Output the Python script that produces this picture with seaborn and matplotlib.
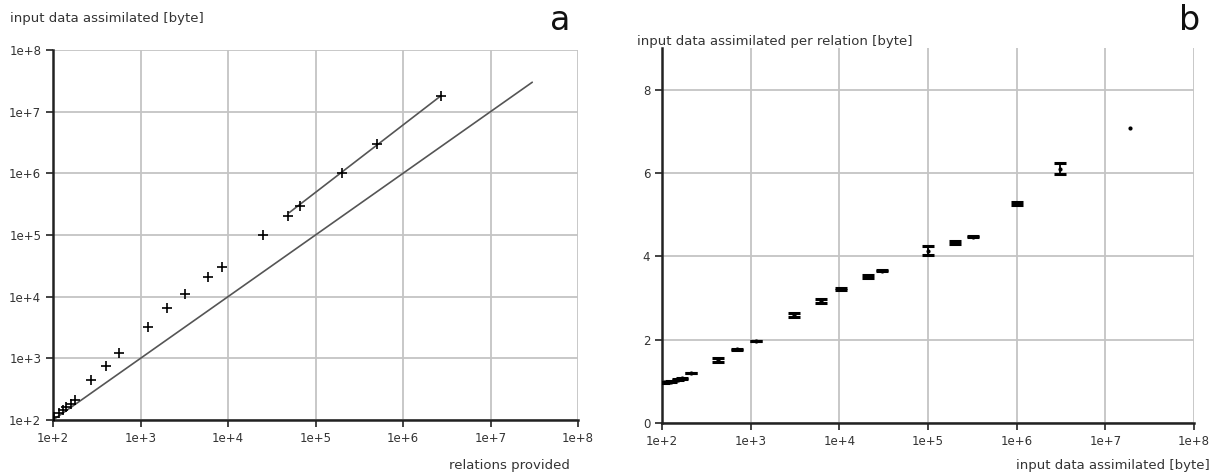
import numpy as np
import pandas as pd
import matplotlib
matplotlib.use("Agg")
import matplotlib.pyplot as plt
import seaborn as sns

# panel a: relations provided vs input data assimilated
relations = [102, 117, 130, 140, 160, 180, 270, 400, 570, 1230, 2000, 3200,
             5900, 8500, 25000, 49000, 67000, 200000, 500000, 2700000]
assimilated = [110, 130, 145, 160, 180, 210, 440, 750, 1200, 3200, 6500, 11000,
               21000, 30000, 100000, 200000, 300000, 1000000, 3000000, 18000000]
fit_x = [50000, 2700000]
fit_y = [230000, 18000000]
ident_x = [100, 30000000]
ident_y = [100, 30000000]

# panel b: input data assimilated vs bytes per relation
input_bytes = [105, 125, 150, 170, 210, 430, 700, 1150, 3100, 6200, 10500, 21000,
               30000, 100000, 200000, 320000, 1000000, 3100000, 19000000]
per_relation = [0.98, 0.99, 1.04, 1.07, 1.20, 1.52, 1.77, 1.97, 2.60, 2.93, 3.22, 3.52,
                3.66, 4.14, 4.33, 4.47, 5.27, 6.10, 7.08]
per_relation_err = [0.01, 0.01, 0.01, 0.01, 0.01, 0.05, 0.01, 0.01, 0.05, 0.05, 0.03, 0.03,
                    0.01, 0.11, 0.04, 0.01, 0.03, 0.13, 0.0]

decades = [1e2, 1e3, 1e4, 1e5, 1e6, 1e7, 1e8]
decade_labels = ["1e+2", "1e+3", "1e+4", "1e+5", "1e+6", "1e+7", "1e+8"]
b_yticks = [0, 2, 4, 6, 8]

sns.set_style("whitegrid")
plt.rcParams['font.family'] = ['DejaVu Sans']
plt.rcParams['grid.color'] = '#c4c4c4'
plt.rcParams['grid.linewidth'] = 1.3

fig = plt.figure(figsize=(12.26, 4.75), dpi=100)
ax_a = fig.add_axes([53 / 1226, 55 / 475, 525 / 1226, 370 / 475])
ax_b = fig.add_axes([662 / 1226, 52 / 475, 532 / 1226, 375 / 475])


def style_axes(ax):
    for side in ["top", "right"]:
        ax.spines[side].set_visible(False)
    for side in ["left", "bottom"]:
        ax.spines[side].set_color("#222222")
        ax.spines[side].set_linewidth(1.8)
    ax.tick_params(axis="both", which="major", direction="out", length=5, width=1.2,
                   color="#222222", labelsize=8.5, labelcolor="#333333", left=True, bottom=True)
    ax.tick_params(axis="both", which="minor", length=0)
    ax.minorticks_off()


# ---- panel a ----
df_a = pd.DataFrame({"relations": relations, "assimilated": assimilated})
sns.lineplot(x=ident_x, y=ident_y, ax=ax_a, color="#555555", linewidth=1.2)
sns.lineplot(x=fit_x, y=fit_y, ax=ax_a, color="#555555", linewidth=1.2)
sns.scatterplot(data=df_a, x="relations", y="assimilated", ax=ax_a, marker="+",
                color="black", s=45, linewidth=1.2, zorder=5)
ax_a.set_xscale("log")
ax_a.set_yscale("log")
ax_a.set_xlim(1e2, 1e8)
ax_a.set_ylim(1e2, 1e8)
ax_a.set_xticks(decades, decade_labels)
ax_a.set_yticks(decades, decade_labels)
style_axes(ax_a)
ax_a.set_xlabel("relations provided", fontsize=9.5, color="#333333", ha="right", va="center")
ax_a.xaxis.set_label_coords(0.985, -0.122)
ax_a.set_ylabel("input data assimilated [byte]", fontsize=9.5, color="#333333",
                rotation=0, ha="left", va="center")
ax_a.yaxis.set_label_coords(-0.082, 1.086)

# ---- panel b ----
df_b = pd.DataFrame({"input": input_bytes, "per_relation": per_relation,
                     "err": per_relation_err})
with_err = df_b[df_b["err"] > 0]
ax_b.errorbar(with_err["input"], with_err["per_relation"], yerr=with_err["err"], fmt="none",
              ecolor="black", elinewidth=1.3, capsize=4, capthick=2.2, zorder=4)
sns.scatterplot(data=df_b, x="input", y="per_relation", ax=ax_b, color="black",
                s=9, linewidth=0, zorder=5)
ax_b.set_xscale("log")
ax_b.set_xlim(1e2, 1e8)
ax_b.set_ylim(0, 9)
ax_b.set_xticks(decades, decade_labels)
ax_b.set_yticks(b_yticks, [str(t) for t in b_yticks])
style_axes(ax_b)
ax_b.set_xlabel("input data assimilated [byte]", fontsize=9.5, color="#333333", ha="right", va="center")
ax_b.xaxis.set_label_coords(1.03, -0.112)
ax_b.set_ylabel("input data assimilated per relation [byte]", fontsize=9.5, color="#333333",
                rotation=0, ha="left", va="center")
ax_b.yaxis.set_label_coords(-0.047, 1.016)

fig.text(560 / 1226, 1 - 20 / 475, "a", fontsize=24, ha="center", va="center", color="#111111")
fig.text(1190 / 1226, 1 - 20 / 475, "b", fontsize=24, ha="center", va="center", color="#111111")

fig.savefig("out.png", dpi=100, facecolor="white")
